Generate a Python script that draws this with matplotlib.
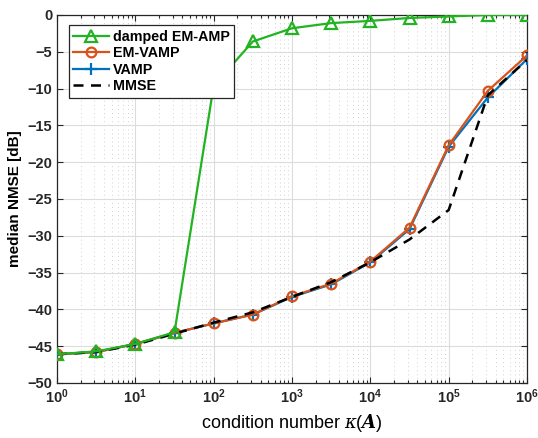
import numpy as np
import matplotlib
matplotlib.use("Agg")
import matplotlib.pyplot as plt
import matplotlib.ticker as ticker

plt.rcParams.update({
    "font.family": "sans-serif",
    "font.sans-serif": ["Liberation Sans", "DejaVu Sans"],
    "mathtext.fontset": "custom",
    "mathtext.rm": "Liberation Sans",
    "mathtext.bf": "Liberation Sans:bold",
    "mathtext.it": "DejaVu Serif:italic",
    "mathtext.bfit": "DejaVu Serif:italic:bold",
})

# condition numbers kappa(A) = 10^0 ... 10^6 in half-decade steps
kappa = 10.0 ** np.arange(0, 6.5, 0.5)

nmse_damped_emamp = [-46.1, -45.7, -44.7, -43.1, -9.6, -3.6, -1.8,
                     -1.1, -0.8, -0.4, -0.2, 0.0, 0.0]
nmse_em_vamp = [-46.1, -45.8, -44.7, -43.2, -41.9, -40.7, -38.2,
                -36.5, -33.5, -28.9, -17.7, -10.3, -5.5]
nmse_vamp = [-46.1, -45.8, -44.7, -43.2, -41.9, -40.7, -38.3,
             -36.6, -33.6, -29.1, -17.9, -11.2, -6.0]
nmse_mmse = [-46.1, -45.8, -44.8, -43.3, -41.8, -40.4, -38.3,
             -36.3, -33.6, -30.5, -26.5, -10.9, -6.1]

decades = np.arange(0, 7)

c_green = (0.13, 0.70, 0.13)
c_orange = "#D95319"
c_blue = "#0072BD"

fig = plt.figure(figsize=(5.38, 4.38), dpi=100)
ax = fig.add_axes([57 / 538, 1 - 383 / 438, 470 / 538, 368 / 438])

l_vamp, = ax.plot(kappa, nmse_vamp, "-+", color=c_blue, lw=1.6, ms=8, mew=1.6,
                  label="VAMP", zorder=3)
l_emvamp, = ax.plot(kappa, nmse_em_vamp, "-o", color=c_orange, lw=1.6, ms=7,
                    mew=1.6, mfc="none", label="EM-VAMP", zorder=4)
l_mmse, = ax.plot(kappa, nmse_mmse, "--", color="black", lw=1.8,
                  dashes=(4, 3), label="MMSE", zorder=5)
l_damp, = ax.plot(kappa, nmse_damped_emamp, "-^", color=c_green, lw=1.6, ms=8,
                  mew=1.6, mfc="none", label="damped EM-AMP", zorder=6)

ax.set_xscale("log")
ax.set_xlim(1, 1e6)
ax.set_ylim(-50, 0)
ax.set_yticks(np.arange(-50, 1, 5))

# major ticks only at the decades, minor ticks 2..9 inside each decade
ax.xaxis.set_major_locator(ticker.FixedLocator(10.0 ** decades))
minor = [m * 10.0 ** d for d in decades[:-1] for m in range(2, 10)]
ax.xaxis.set_minor_locator(ticker.FixedLocator(minor))
ax.xaxis.set_major_formatter(ticker.FixedFormatter(
    [r"$\mathbf{10^{%d}}$" % d for d in decades]))
ax.xaxis.set_minor_formatter(ticker.NullFormatter())

for lab in ax.get_yticklabels():
    lab.set_fontweight("bold")

ax.tick_params(which="both", direction="in", top=True, right=True,
               labelsize=10.5, colors="#262626", width=0.8)
ax.tick_params(which="major", length=4)
ax.tick_params(which="minor", length=2.5)

# solid major grid, dotted minor grid only along x (like MATLAB)
ax.grid(True, which="major", color="#dcdcdc", lw=0.8, ls="-")
ax.xaxis.grid(True, which="minor", color="#d2d2d2", lw=0.7, ls=(0, (1, 3.2)))
ax.set_axisbelow(True)
for sp in ax.spines.values():
    sp.set_color("#262626")
    sp.set_linewidth(0.9)

ax.set_xlabel(r"condition number $\kappa(\mathbfit{A})$", fontsize=13)
ax.set_ylabel("median NMSE [dB]", fontsize=11, fontweight="bold")

leg = ax.legend(handles=[l_damp, l_emvamp, l_vamp, l_mmse], loc="upper left",
                bbox_to_anchor=(0.025, 0.972), fancybox=False, framealpha=1,
                edgecolor="#262626", prop={"weight": "bold", "size": 10.3},
                handlelength=2.5, handletextpad=0.3, borderpad=0.3,
                labelspacing=0.18, borderaxespad=0)
leg.get_frame().set_linewidth(0.9)
leg.set_zorder(10)  # legend box covers the lines, as in the original

fig.savefig("out.png", dpi=100)
